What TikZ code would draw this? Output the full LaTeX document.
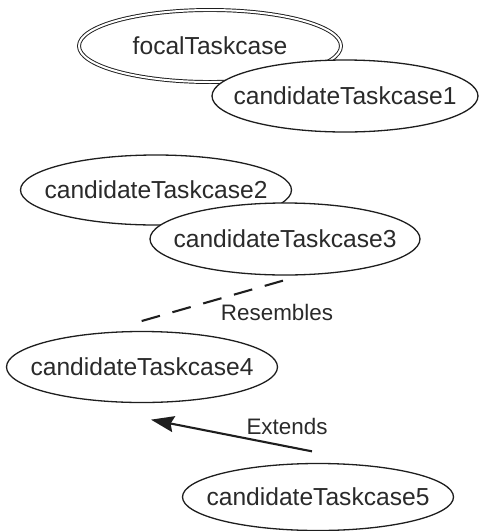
\documentclass[tikz,border=0pt]{standalone}
\usepackage{fontspec}
\setmainfont{Liberation Sans}
\usetikzlibrary{shapes.geometric,arrows.meta,calc}
\newcommand\ellabel[1]{\makebox[0pt]{#1}}
\definecolor{ink}{HTML}{1E1E1E}
\definecolor{txt}{HTML}{2A2A2A}
\tikzset{
  casebox/.style={ellipse, draw=ink, line width=1.3pt, fill=white, inner sep=0pt,
    text=txt, font=\fontsize{24.6}{28}\selectfont, minimum width=268pt, minimum height=71pt},
  focalbox/.style={casebox, double=white, double distance=2pt, line width=0.95pt,
    minimum width=262pt, minimum height=72pt},
  lbl/.style={text=txt, font=\fontsize{22.4}{26}\selectfont, inner sep=0pt},
  resemble/.style={draw=ink, line width=2.1pt, dash pattern=on 19pt off 13pt},
  extend/.style={draw=ink, line width=2.1pt, -{Stealth[length=23pt,width=16pt,inset=3pt]}}
}
\begin{document}
\begin{tikzpicture}[x=1pt,y=1pt]
\useasboundingbox (0,0) rectangle (480,-531);
\node[focalbox] (focal) at (210,-46) {\ellabel{focalTaskcase}};
\node[casebox, minimum width=266pt, minimum height=72pt] (c1) at (345,-96) {\ellabel{candidateTaskcase1}};
\node[casebox, minimum width=271pt, minimum height=70pt] (c2) at (156,-190) {\ellabel{candidateTaskcase2}};
\node[casebox, minimum width=270pt, minimum height=72pt] (c3) at (285,-239) {\ellabel{candidateTaskcase3}};
\node[casebox, minimum width=271pt, minimum height=71pt] (c4) at (142,-367) {\ellabel{candidateTaskcase4}};
\node[casebox, minimum width=271pt, minimum height=67pt] (c5) at (318,-497) {\ellabel{candidateTaskcase5}};
\draw[resemble] ($(c3.south)+(-2,-5)$) -- ($(c4.north)+(-5,8.5)$);
\node[lbl] (lres) at ($(c3.south)+(-8,-37)$) {Resembles};
\draw[extend] ($(c5.north)+(-6,11.5)$) -- ($(c4.south)+(9,-16.5)$);
\node[lbl] (lext) at ($(c5.north)+(-31,36)$) {Extends};
\end{tikzpicture}
\end{document}
